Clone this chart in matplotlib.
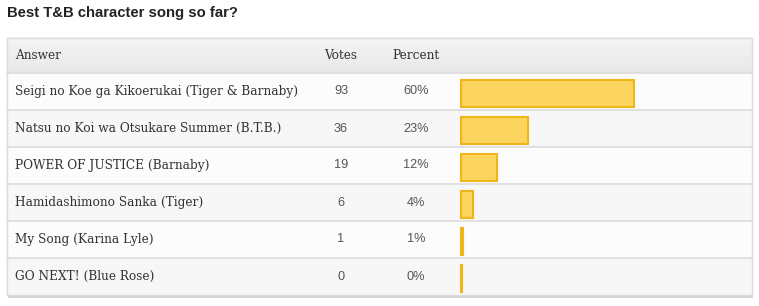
import matplotlib.pyplot as plt
from matplotlib.patches import Rectangle

title = "Best T&B character song so far?"
headers = ["Answer", "Votes", "Percent"]
answers = [
    "Seigi no Koe ga Kikoerukai (Tiger & Barnaby)",
    "Natsu no Koi wa Otsukare Summer (B.T.B.)",
    "POWER OF JUSTICE (Barnaby)",
    "Hamidashimono Sanka (Tiger)",
    "My Song (Karina Lyle)",
    "GO NEXT! (Blue Rose)",
]
votes = [93, 36, 19, 6, 1, 0]
percents = ["60%", "23%", "12%", "4%", "1%", "0%"]

W, H = 759, 306
fig = plt.figure(figsize=(W / 100, H / 100), dpi=100)
ax = fig.add_axes([0, 0, 1, 1])
ax.set_xlim(0, W)
ax.set_ylim(H, 0)
ax.axis("off")

serif = "DejaVu Serif"
sans = "Liberation Sans"

# title
ax.text(7, 12.5, title, fontsize=10.7, fontweight="bold", family=sans,
        color="#222222", va="center", ha="left")

# table frame
left, right = 7, 752
top, head_h, row_h = 38, 35, 37
bottom = top + head_h + row_h * len(answers)

# shadow
ax.add_patch(Rectangle((left + 1, top + 1), right - left, bottom - top + 1.5,
                       facecolor="#d6d6d6", edgecolor="none", zorder=0))
ax.add_patch(Rectangle((left, top), right - left, bottom - top,
                       facecolor="#fafafa", edgecolor="#dcdcdc", lw=1, zorder=1))
# header gradient
n = 12
for i in range(n):
    c = 0.955 - 0.045 * i / (n - 1)
    ax.add_patch(Rectangle((left + 0.5, top + 0.5 + i * head_h / n), right - left - 1,
                           head_h / n + 0.3, facecolor=(c, c, c), edgecolor="none", zorder=2))

hy = top + head_h / 2
fs = 8.75
ax.text(15, hy, headers[0], fontsize=fs, family=serif, color="#333333", va="center", zorder=5)
ax.text(341, hy, headers[1], fontsize=fs, family=serif, color="#333333", va="center",
        ha="center", zorder=5)
ax.text(416, hy, headers[2], fontsize=fs, family=serif, color="#333333", va="center",
        ha="center", zorder=5)

scale = 172 / max(votes)
bar_x = 460.5
for i, (a, v, p) in enumerate(zip(answers, votes, percents)):
    y0 = top + head_h + i * row_h
    fc = "#fcfcfc" if i % 2 == 0 else "#f7f7f7"
    ax.add_patch(Rectangle((left + 0.5, y0), right - left - 1, row_h,
                           facecolor=fc, edgecolor="none", zorder=2))
    ax.plot([left, right], [y0, y0], color="#dcdcdc", lw=1.2, zorder=3)
    cy = y0 + row_h / 2
    ax.text(15, cy, a, fontsize=fs, family=serif, color="#333333", va="center", zorder=5)
    ax.text(341, cy, str(v), fontsize=9.2, family=sans, color="#555555", va="center",
            ha="center", zorder=5)
    ax.text(416, cy, p, fontsize=9.2, family=sans, color="#555555", va="center",
            ha="center", zorder=5)
    ax.barh(cy + 1.5, v * scale + 1, height=27, left=bar_x, color="#fcd55f",
            edgecolor="#f0b619", linewidth=1.5, zorder=4)

ax.add_patch(Rectangle((left, top), right - left, bottom - top,
                       facecolor="none", edgecolor="#dcdcdc", lw=1, zorder=6))

fig.savefig("out.png", dpi=100)
